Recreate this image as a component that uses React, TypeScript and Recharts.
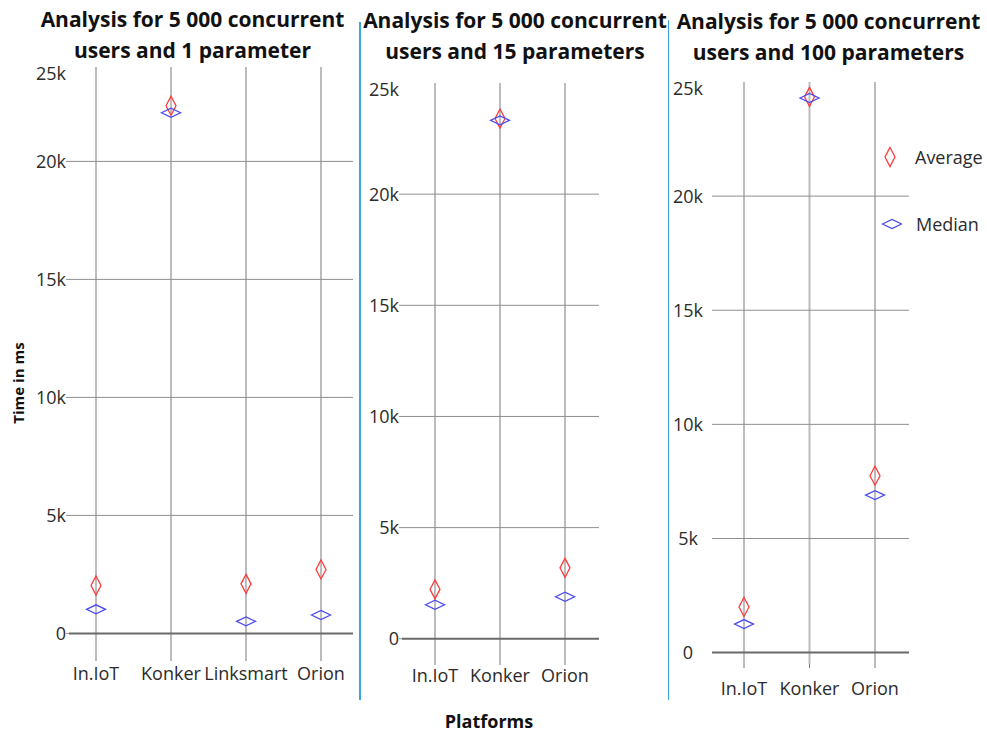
import React from "react";
import {
  ComposedChart,
  Scatter,
  XAxis,
  YAxis,
  CartesianGrid,
  ReferenceLine,
  Legend,
} from "recharts";

// --- data (ms) ---
const oneParamPlatforms = ["In.IoT", "Konker", "Linksmart", "Orion"];
const oneParamAverage = [2030, 22360, 2100, 2710];
const oneParamMedian = [1020, 22060, 510, 780];

const fifteenParamPlatforms = ["In.IoT", "Konker", "Orion"];
const fifteenParamAverage = [2220, 23400, 3190];
const fifteenParamMedian = [1530, 23320, 1890];

const hundredParamPlatforms = ["In.IoT", "Konker", "Orion"];
const hundredParamAverage = [2000, 24350, 7750];
const hundredParamMedian = [1250, 24300, 6900];

const panelTitles = [
  ["Analysis for 5 000 concurrent", "users and 1 parameter"],
  ["Analysis for 5 000 concurrent", "users and 15 parameters"],
  ["Analysis for 5 000 concurrent", "users and 100 parameters"],
];

// the first panel's axis tops out a bit under its "25k" label
const yTicksShort = [0, 5000, 10000, 15000, 20000, 24000];
const yTicksFull = [0, 5000, 10000, 15000, 20000, 25000];
const yTickLabels = ["0", "5k", "10k", "15k", "20k", "25k"];
const gridValues = [5000, 10000, 15000, 20000];

const seriesNames = ["Average", "Median"];

const FONT = '"Open Sans", "DejaVu Sans", sans-serif';
const COLORS = {
  average: "#ff3b3b",
  median: "#4b4bf0",
  vGrid: "#bcbcbc",
  hGrid: "#8f8f8f",
  zero: "#6a6a6a",
  text: "#2b2b2b",
  divider: "#3aa6df",
};

const toRows = (names: string[], avg: number[], med: number[]) =>
  names.map((name, i) => ({ name, average: avg[i], median: med[i] }));

// tall narrow diamond for the average
function AverageMark({ cx, cy }: any) {
  if (cx == null || cy == null) return null;
  const w = 5, h = 9.5;
  return (
    <path
      d={`M${cx},${cy - h}L${cx + w},${cy}L${cx},${cy + h}L${cx - w},${cy}Z`}
      fill="none"
      stroke={COLORS.average}
      strokeWidth={1.3}
    />
  );
}

// flat wide diamond for the median
function MedianMark({ cx, cy }: any) {
  if (cx == null || cy == null) return null;
  const w = 9.5, h = 4.5;
  return (
    <path
      d={`M${cx - w},${cy}L${cx},${cy - h}L${cx + w},${cy}L${cx},${cy + h}Z`}
      fill="none"
      stroke={COLORS.median}
      strokeWidth={1.3}
    />
  );
}

function LegendBox() {
  return (
    <div style={{ fontFamily: FONT, fontSize: 18, color: COLORS.text }}>
      {seriesNames.map((name, i) => (
        <div
          key={name}
          style={{ display: "flex", alignItems: "center", height: 30, marginBottom: i === 0 ? 37 : 0 }}
        >
          <svg width={24} height={24}>
            {i === 0 ? <AverageMark cx={12} cy={12} /> : <MedianMark cx={14} cy={12} />}
          </svg>
          <span style={{ marginLeft: i === 0 ? 13 : 14 }}>{name}</span>
        </div>
      ))}
    </div>
  );
}

function Panel({
  left,
  width,
  rows,
  domain,
  yTicks,
  margin,
  yAxisWidth,
  xAxisHeight,
  xPadding,
  xTickMargin,
  centeredYLabels,
  showLegend,
}: any) {
  const lastTick = yTicks[yTicks.length - 1];
  const plotLeft = margin.left + yAxisWidth;

  // y labels; a short dash for every tick but the top one
  const renderYTick = (props: any) => {
    const { y, payload } = props;
    const idx = yTicks.indexOf(payload.value);
    const isTop = payload.value === lastTick;
    const ty = y + (isTop ? 7 : 0);
    return (
      <g>
        {!centeredYLabels && !isTop && (
          <line x1={plotLeft - 3} x2={plotLeft} y1={y} y2={y} stroke={COLORS.hGrid} />
        )}
        <text
          x={centeredYLabels ? plotLeft - 24 : plotLeft - 3}
          y={ty}
          dy="0.355em"
          textAnchor={centeredYLabels ? "middle" : "end"}
          fill={COLORS.text}
          fontSize={18}
          fontFamily={FONT}
        >
          {yTickLabels[idx]}
        </text>
      </g>
    );
  };

  return (
    <div style={{ position: "absolute", left, top: 0 }}>
      <ComposedChart width={width} height={734} data={rows} margin={margin}>
        <CartesianGrid
          horizontal={false}
          verticalValues={rows.map((r: any) => r.name)}
          stroke={COLORS.vGrid}
          strokeWidth={2}
        />
        <CartesianGrid
          vertical={false}
          horizontalValues={gridValues}
          stroke={COLORS.hGrid}
          strokeWidth={1}
        />
        <XAxis
          dataKey="name"
          type="category"
          scale="point"
          padding={xPadding}
          interval={0}
          axisLine={false}
          tickSize={4}
          tickMargin={xTickMargin}
          tickLine={{ stroke: "#777" }}
          height={xAxisHeight}
          tick={{ fontSize: 18, fill: COLORS.text, fontFamily: FONT }}
        />
        <YAxis
          type="number"
          domain={domain}
          ticks={yTicks}
          interval={0}
          allowDataOverflow
          width={yAxisWidth}
          axisLine={false}
          tickLine={false}
          tick={renderYTick}
        />
        <ReferenceLine y={0} stroke={COLORS.zero} strokeWidth={2} />
        <Scatter name={seriesNames[0]} dataKey="average" shape={<AverageMark />} isAnimationActive={false} />
        <Scatter name={seriesNames[1]} dataKey="median" shape={<MedianMark />} isAnimationActive={false} />
        {showLegend && (
          <Legend
            layout="vertical"
            align="center"
            verticalAlign="middle"
            content={() => <LegendBox />}
            wrapperStyle={{ position: "absolute", left: 210, top: 142, width: 110 }}
          />
        )}
      </ComposedChart>
    </div>
  );
}

function Title({ lines, left, width, top }: any) {
  return (
    <div
      style={{
        position: "absolute",
        left,
        top,
        width,
        textAlign: "center",
        fontFamily: FONT,
        fontWeight: 700,
        fontSize: 21,
        lineHeight: "31px",
        color: "#111",
        whiteSpace: "nowrap",
      }}
    >
      {lines.map((l: string) => (
        <div key={l}>{l}</div>
      ))}
    </div>
  );
}

export default function App() {
  return (
    <div
      style={{
        position: "absolute",
        left: 0,
        top: 0,
        width: 987,
        height: 734,
        background: "#fff",
        overflow: "hidden",
      }}
    >
      <Panel
        left={0}
        width={360}
        rows={toRows(oneParamPlatforms, oneParamAverage, oneParamMedian)}
        domain={[-1000, 24000]}
        yTicks={yTicksShort}
        margin={{ top: 67, right: 7, bottom: 47, left: 0 }}
        yAxisWidth={69}
        xAxisHeight={30}
        xPadding={{ left: 27, right: 32 }}
        xTickMargin={6}
      />
      <Panel
        left={360}
        width={250}
        rows={toRows(fifteenParamPlatforms, fifteenParamAverage, fifteenParamMedian)}
        domain={[-1000, 25000]}
        yTicks={yTicksFull}
        margin={{ top: 83, right: 11, bottom: 43, left: 0 }}
        yAxisWidth={42}
        xAxisHeight={30}
        xPadding={{ left: 33, right: 34 }}
        xTickMargin={4}
      />
      <Panel
        left={668}
        width={319}
        rows={toRows(hundredParamPlatforms, hundredParamAverage, hundredParamMedian)}
        domain={[-500, 25000]}
        yTicks={yTicksFull}
        margin={{ top: 82, right: 78, bottom: 30, left: 0 }}
        yAxisWidth={44}
        xAxisHeight={40}
        xPadding={{ left: 32, right: 34 }}
        xTickMargin={14}
        centeredYLabels
        showLegend
      />

      <Title lines={panelTitles[0]} left={40} width={305} top={4} />
      <Title lines={panelTitles[1]} left={362} width={306} top={5} />
      <Title lines={panelTitles[2]} left={676} width={305} top={6} />

      <div style={{ position: "absolute", left: 359, top: 22, width: 1.5, height: 678, background: COLORS.divider }} />
      <div style={{ position: "absolute", left: 667.5, top: 20, width: 1.5, height: 680, background: COLORS.divider }} />

      <div
        style={{
          position: "absolute",
          left: 18,
          top: 383,
          transform: "translate(-50%, -50%) rotate(-90deg)",
          fontFamily: FONT,
          fontWeight: 700,
          fontSize: 15,
          color: "#111",
          whiteSpace: "nowrap",
        }}
      >
        Time in ms
      </div>
      <div
        style={{
          position: "absolute",
          left: 489,
          top: 721,
          transform: "translate(-50%, -50%)",
          fontFamily: FONT,
          fontWeight: 700,
          fontSize: 18,
          color: "#111",
          whiteSpace: "nowrap",
        }}
      >
        Platforms
      </div>
    </div>
  );
}
